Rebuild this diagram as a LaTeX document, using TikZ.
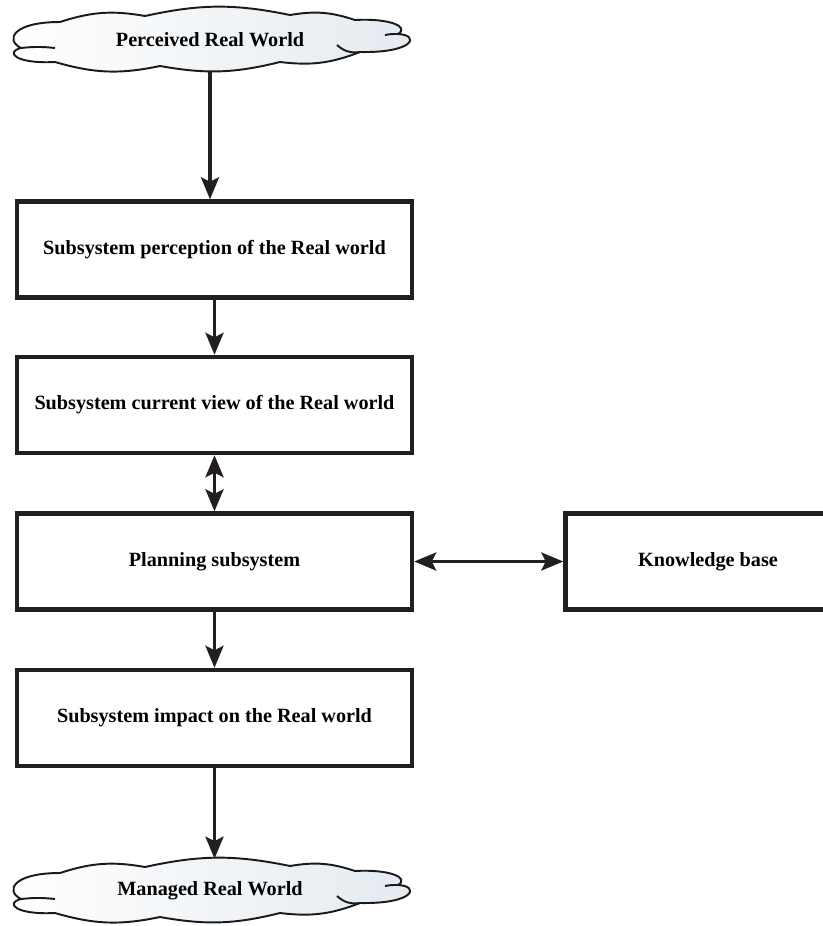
\documentclass[tikz,border=0pt]{standalone}
\usepackage{fontspec}
\setmainfont{Liberation Serif}
\usetikzlibrary{arrows.meta}
\definecolor{cloudedge}{HTML}{1A1A1A}
\definecolor{cloudfill}{HTML}{E4EAF0}
\definecolor{boxedge}{HTML}{231F20}

\begin{document}
\begin{tikzpicture}[>={Stealth[length=4.4mm,width=3.6mm,inset=0.9mm]},
  sysbox/.style={rectangle, draw=boxedge, line width=2.5pt, fill=white,
    minimum width=7.9cm, minimum height=1.92cm,
    font=\fontsize{11.5}{13}\selectfont\bfseries, align=center},
  worldtext/.style={rectangle, minimum width=7.9cm, minimum height=1.28cm,
    font=\fontsize{11.5}{13}\selectfont\bfseries},
  cloudline/.style={draw=cloudedge, line width=1.1pt, line join=round},
  worldcloud/.pic={
    % flat cloud, two lobes at each end
    \path[cloudline, left color=white, right color=cloudfill]
      (-3.78,-0.16) .. controls (-4.1,0.0) and (-3.95,0.36) .. (-3.0,0.36)
      to[bend left=14] (-1.3,0.48) to[bend left=12] (1.6,0.5)
      to[bend left=14] (2.9,0.4)
      .. controls (3.6,0.44) and (4.0,0.26) .. (3.76,0.12)
      .. controls (4.2,0.1) and (4.1,-0.26) .. (3.0,-0.24)
      to[bend left=14] (1.4,-0.44) to[bend left=12] (-1.0,-0.52)
      to[bend left=14] (-3.1,-0.44)
      .. controls (-3.9,-0.48) and (-4.1,-0.24) .. (-3.78,-0.16) -- cycle;
    % inner strokes where the lobes meet
    \draw[cloudline] (-3.78,-0.16) to[bend left=6] (-3.1,-0.16);
    \draw[cloudline] (3.76,0.12) to[bend right=6] (3.5,0.1);
    \draw[cloudline] (3.0,-0.24) to[bend left=25] (2.54,-0.1);
  },
  flow/.style={->, line width=2pt, boxedge}]

\useasboundingbox (0,0) rectangle (16.46,-18.52);

\pic at (4.2,-0.8) {worldcloud};
\node[worldtext] (perceived) at (4.2,-0.8) {Perceived Real World};

\node[sysbox] (perception) at (4.29,-4.99) {Subsystem perception of the Real world};
\node[sysbox] (view) at (4.29,-8.1) {Subsystem current view of the Real world};
\node[sysbox] (planning) at (4.29,-11.23) {Planning subsystem};
\node[sysbox, minimum width=5.7cm] (knowledge) at (14.16,-11.23) {Knowledge base};
\node[sysbox] (impact) at (4.29,-14.36) {Subsystem impact on the Real world};

\pic at (4.2,-17.82) {worldcloud};
\node[worldtext] (managed) at (4.2,-17.82) {Managed Real World};

\draw[flow] (perceived.south) -- (perceived.south |- perception.north);
\draw[flow] (perception) -- (view);
\draw[flow, <->] (view) -- (planning);
\draw[flow, <->] (planning) -- (knowledge);
\draw[flow] (planning) -- (impact);
\draw[flow] (impact.south) -- (impact.south |- managed.north);
\end{tikzpicture}
\end{document}
